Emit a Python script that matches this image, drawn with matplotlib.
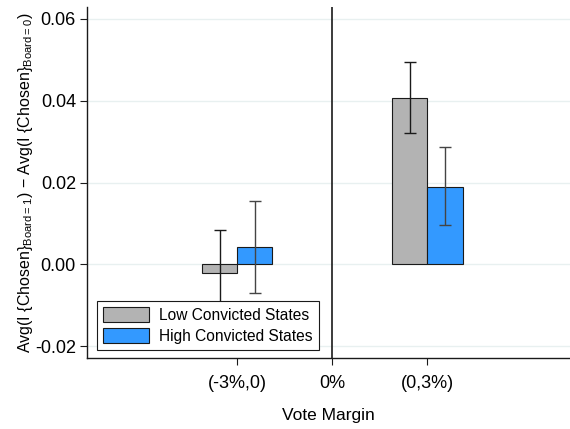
import matplotlib
matplotlib.use("Agg")
import matplotlib.pyplot as plt
import numpy as np

plt.rcParams['font.family'] = ['Liberation Sans', 'DejaVu Sans']
plt.rcParams['mathtext.fontset'] = 'custom'
plt.rcParams['mathtext.rm'] = 'Liberation Sans'

groups = ["(-3%,0)", "(0,3%)"]
group_pos = [-1, 1]
series = ["Low Convicted States", "High Convicted States"]
low_vals = [-0.0022, 0.0407]
low_lo = [-0.0127, 0.0320]
low_hi = [0.0083, 0.0495]
high_vals = [0.0043, 0.0189]
high_lo = [-0.0070, 0.0095]
high_hi = [0.0155, 0.0287]
tick_pos = [-1, 0, 1]
tick_labels = ["(-3%,0)", "0%", "(0,3%)"]
yticks = [-0.02, 0.00, 0.02, 0.04, 0.06]

fig = plt.figure(figsize=(5.7, 4.29), dpi=100)
ax = fig.add_axes([87/570, 1-358/429, (570-87)/570, (358-7)/429])

w = 0.37
pos = np.array(group_pos, dtype=float)
low_err = [np.array(low_vals) - np.array(low_lo), np.array(low_hi) - np.array(low_vals)]
high_err = [np.array(high_vals) - np.array(high_lo), np.array(high_hi) - np.array(high_vals)]

ax.bar(pos - w/2, low_vals, w, color='#b3b3b3', edgecolor='#1a1a1a', linewidth=0.8,
       label=series[0], zorder=3)
ax.bar(pos + w/2, high_vals, w, color='#3399ff', edgecolor='#1a1a1a', linewidth=0.8,
       label=series[1], zorder=3)
ax.errorbar(pos - w/2, low_vals, yerr=low_err, fmt='none', ecolor='#1a1a1a',
            elinewidth=1.0, capsize=4, capthick=1.0, zorder=4)
ax.errorbar(pos + w/2, high_vals, yerr=high_err, fmt='none', ecolor='#444444',
            elinewidth=1.0, capsize=4, capthick=1.0, zorder=4)

ax.axvline(0, color='#1a1a1a', linewidth=1.2, zorder=2)

ax.set_xlim(-2.58, 2.5)
ax.set_ylim(-0.0229, 0.0629)
ax.set_yticks(yticks)
ax.set_yticklabels([f"{v:.2f}" for v in yticks])
ax.set_xticks(tick_pos)
ax.set_xticklabels(tick_labels)
ax.tick_params(axis='both', labelsize=13, length=5, width=0.8, color='#1a1a1a')
ax.tick_params(axis='x', pad=7)
ax.tick_params(axis='y', pad=3)
ax.grid(axis='y', color='#e8f0f0', linewidth=1.0, zorder=0)
ax.set_axisbelow(True)
for s in ['top', 'right']:
    ax.spines[s].set_visible(False)
for s in ['left', 'bottom']:
    ax.spines[s].set_color('#1a1a1a')
    ax.spines[s].set_linewidth(1.0)

ax.set_xlabel("Vote Margin", fontsize=12.5, labelpad=12)
ax.set_ylabel(r"Avg(I {Chosen}$_{\mathrm{Board{=}1}}$) $-$ Avg(I {Chosen}$_{\mathrm{Board{=}0}}$)",
              fontsize=11.5, labelpad=0)

leg = ax.legend(loc='lower left', bbox_to_anchor=(0.005, 0.0), fontsize=11.2,
                frameon=True, fancybox=False, edgecolor='#1a1a1a', framealpha=1,
                handlelength=2.9, handleheight=1.1, borderpad=0.4, labelspacing=0.35,
                handletextpad=0.7)
leg.get_frame().set_linewidth(0.8)
leg.set_zorder(5)

fig.savefig("out.png", dpi=100)
